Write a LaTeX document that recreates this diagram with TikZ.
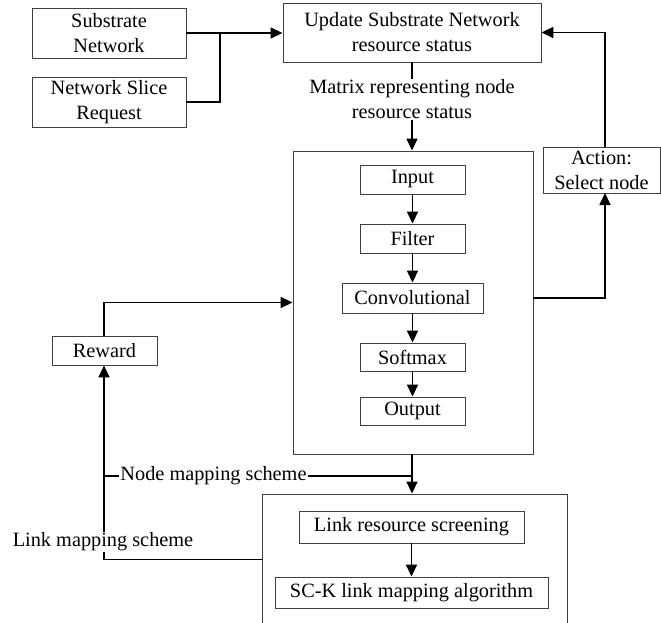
\documentclass[tikz,border=0pt]{standalone}
\usepackage{fontspec}
\setmainfont{Liberation Serif}
\usetikzlibrary{arrows.meta,positioning}
\begin{document}
\begin{tikzpicture}[x=1pt,y=-1pt,
  box/.style={draw=black!75,line width=0.9pt,rectangle,inner sep=0pt,align=center,
    font=\fontsize{20.3}{25}\selectfont},
  lbl/.style={inner sep=1pt,align=center,font=\fontsize{20.3}{25}\selectfont},
  conn/.style={line width=1.7pt,black},
  arr/.style={conn,-{Triangle[length=12pt,width=11pt]}}]
\useasboundingbox (0,0) rectangle (661,623);
% boxes
\node[box,minimum width=154pt,minimum height=50pt] (sn) at (109,33) {Substrate\\Network};
\node[box,minimum width=154pt,minimum height=50pt] (nsr) at (109,102) {Network Slice\\Request};
\node[box,minimum width=258pt,minimum height=59pt] (upd) at (412,32.5) {Update Substrate Network\\resource status};
\node[lbl] (mat) at (412,99.5) {Matrix representing node\\resource status};
\node[box,minimum width=240pt,minimum height=303pt] (big) at (413,302.5) {};
\node[box,minimum width=105pt,minimum height=29pt] (inp) at (412.5,179.5) {Input};
\node[box,minimum width=105pt,minimum height=29pt] (fil) at (412.5,238.5) {Filter};
\node[box,minimum width=141pt,minimum height=30pt] (conv) at (412.5,298) {Convolutional};
\node[box,minimum width=105pt,minimum height=28pt] (soft) at (412.5,357) {Softmax};
\node[box,minimum width=105pt,minimum height=28pt] (out) at (412.5,411) {Output};
\node[box,minimum width=117pt,minimum height=46pt] (act) at (601.5,170) {Action:\\Select node};
\node[box,minimum width=105pt,minimum height=29pt] (rew) at (104.5,350.5) {Reward};
\node[box,minimum width=305pt,minimum height=131pt] (lm) at (414.5,559.5) {};
\node[box,minimum width=225pt,minimum height=32pt] (lrs) at (411.5,527) {Link resource screening};
\node[box,minimum width=273pt,minimum height=31pt] (sck) at (411.5,592.5) {SC-K link mapping algorithm};
\coordinate (j) at (220,33);
\coordinate (nmL) at (104,476);
\coordinate (nmR) at (412,476);
\coordinate (actS) at (605,193);
\coordinate (actN) at (605,147);
% connectors
\draw[arr] (sn.east) -- (sn.east -| upd.west);
\draw[conn] (nsr.east) -| (j);
\draw[conn] (upd.south) -- (mat.north);
\draw[arr] (mat.south) -- (big.north -| mat.south);
\draw[arr] (inp) -- (fil);
\draw[arr] (fil) -- (conv);
\draw[arr] (conv) -- (soft);
\draw[arr] (soft) -- (out);
\draw[arr] (big.south -| nmR) -- (lm.north -| nmR);
\draw[conn] (nmL) -- (nmR);
\node[lbl,fill=white] (nms) at (213.5,476) {Node mapping scheme};
\draw[arr] (big.east |- conv) -| (actS);
\draw[arr] (actN) |- (upd.east);
\draw[arr] (rew.north -| nmL) |- (big.west);
\draw[arr] (lm.west) -| (rew.south -| nmL);
\node[lbl,fill=white] (lms) at (103,542) {Link mapping scheme};
\draw[arr] (lrs) -- (sck);
\end{tikzpicture}
\end{document}
